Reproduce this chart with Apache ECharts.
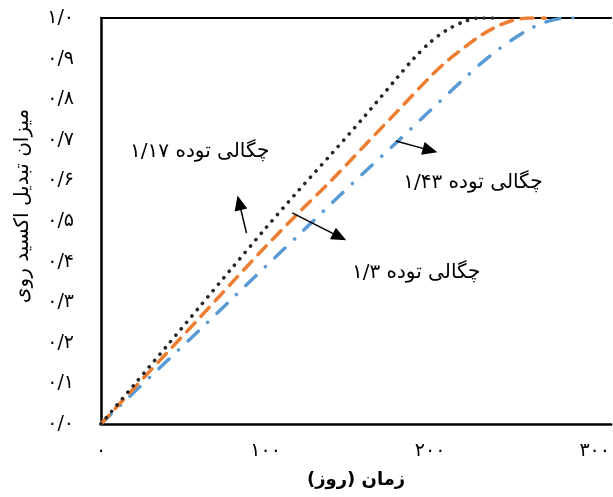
<!DOCTYPE html>
<html>
<head>
<meta charset="utf-8">
<script src="https://cdn.jsdelivr.net/npm/echarts@6/dist/echarts.min.js"></script>
<style>
html,body{margin:0;padding:0;background:#fff;}
#c{width:613px;height:497px;}
</style>
</head>
<body>
<div id="c"></div>
<script>
// ---- data ----
const xTickLabels = {0:'۰', 100:'۱۰۰', 200:'۲۰۰', 300:'۳۰۰'};
const yTickLabels = ['۰/۰','۰/۱','۰/۲','۰/۳','۰/۴','۰/۵','۰/۶','۰/۷','۰/۸','۰/۹','۱/۰'];

const daysA = [0,20,40,60,80,100,120,140,160,180,190,200,210,220,230,240];
const valsA = [0,0.096,0.192,0.289,0.386,0.482,0.575,0.665,0.757,0.853,0.9,0.94,0.97,0.99,1.0,1.0];   // 1/17

const daysB = [0,20,40,60,80,100,120,140,160,180,200,210,220,230,240,250,260,270];
const valsB = [0,0.088,0.175,0.262,0.35,0.437,0.52,0.6,0.685,0.77,0.855,0.893,0.925,0.955,0.978,0.994,1.0,1.0]; // 1/43

const daysC = [0,20,40,60,80,100,120,140,160,180,200,220,230,240,250,260,270,280,290];
const valsC = [0,0.078,0.155,0.232,0.31,0.388,0.465,0.543,0.62,0.695,0.772,0.848,0.885,0.918,0.947,0.972,0.99,0.999,1.0]; // 1/3

const annoTexts = ['چگالی توده ۱/۱۷', 'چگالی توده ۱/۴۳', 'چگالی توده ۱/۳'];
const annoPos = [[60, 0.67], [226, 0.594], [191.5, 0.372]];
const arrowFrom = [[88.4, 0.47], [116.2, 0.52], [179.2, 0.697]];
const arrowTo = [[84, 0.545], [145, 0.461], [200, 0.674]];

const xName = '\u200Fزمان (روز)\u200F';
const yName = '\u200Fمیزان تبدیل اکسید روی\u200F';

// ---- chart ----
const FONT = "'DejaVu Sans', 'Noto Sans', sans-serif";
const pairs = (d, v) => d.map((x, i) => [x, v[i]]);

const chart = echarts.init(document.getElementById('c'), null, {renderer: 'canvas'});
chart.setOption({
  animation: false,
  backgroundColor: '#fff',
  grid: {left: 101, top: 18, right: 0, bottom: 73, containLabel: false},
  xAxis: [{
    type: 'value', min: 0, max: 310, interval: 100,
    axisLine: {show: true, lineStyle: {color: '#000', width: 2.5}},
    axisTick: {show: false},
    splitLine: {show: false},
    axisLabel: {
      showMaxLabel: false, margin: 18, fontSize: 19, color: '#000', fontFamily: FONT,
      formatter: v => xTickLabels[v] !== undefined ? xTickLabels[v] : ''
    },
    name: xName, nameLocation: 'middle', nameGap: 47,
    nameTextStyle: {fontSize: 18, fontWeight: 'bold', color: '#000', fontFamily: FONT}
  }, {
    type: 'value', min: 0, max: 310, position: 'top',
    axisLine: {show: true, onZero: false, lineStyle: {color: '#000', width: 2}},
    axisTick: {show: false}, axisLabel: {show: false}, splitLine: {show: false}
  }],
  yAxis: {
    type: 'value', min: 0, max: 1, interval: 0.1,
    axisLine: {show: true, lineStyle: {color: '#000', width: 2.5}},
    axisTick: {show: false},
    splitLine: {show: false},
    axisLabel: {
      margin: 27, fontSize: 19, color: '#000', fontFamily: FONT,
      formatter: v => yTickLabels[Math.round(v * 10)]
    },
    name: yName, nameLocation: 'middle', nameGap: 68, nameRotate: 90,
    nameTextStyle: {fontSize: 20, color: '#000', fontFamily: FONT, padding: [0, 0, 0, 30]}
  },
  series: [
    {
      type: 'line', name: '1/3', data: pairs(daysC, valsC), showSymbol: false, smooth: 0.3,
      lineStyle: {color: '#5B9BD5', width: 3.5, type: [14, 13, 0.1, 13], cap: 'round'}
    },
    {
      type: 'line', name: '1/43', data: pairs(daysB, valsB), showSymbol: false, smooth: 0.3,
      lineStyle: {color: '#ED7D31', width: 3.5, type: [12, 9], cap: 'round'}
    },
    {
      type: 'line', name: '1/17', data: pairs(daysA, valsA), showSymbol: false, smooth: 0.3,
      lineStyle: {color: '#262626', width: 3.6, type: [0.1, 8.2], cap: 'round'},
      markLine: {
        silent: true, animation: false,
        symbol: ['none', 'triangle'], symbolSize: [13, 15],
        label: {show: false},
        lineStyle: {color: '#000', width: 1.5, type: 'solid'},
        itemStyle: {color: '#000'},
        data: arrowFrom.map((f, i) => [{coord: f}, {coord: arrowTo[i]}])
      },
      markPoint: {
        silent: true, animation: false,
        symbol: 'circle', symbolSize: 0,
        label: {show: true, position: 'inside', color: '#000', fontSize: 20, fontFamily: FONT,
                formatter: p => p.name},
        data: annoPos.map((p, i) => ({name: annoTexts[i], coord: p}))
      }
    }
  ]
});
</script>
</body>
</html>
